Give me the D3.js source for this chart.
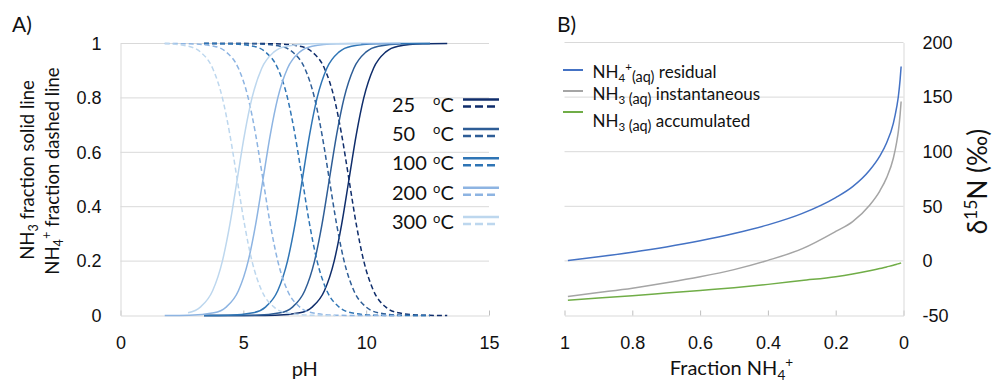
<!DOCTYPE html>
<html>
<head>
<meta charset="utf-8">
<script src="https://cdn.jsdelivr.net/npm/d3@7"></script>
<style>
  body { margin: 0; background: #fff; }
  svg { font-family: Lato, "Open Sans", sans-serif; }
</style>
</head>
<body>
<script>
// ---------- panel A data (pH vs. fraction) ----------
var phTicks = [0, 5, 10, 15];
var fracTicks = [0, 0.2, 0.4, 0.6, 0.8, 1];
var temps = ["25", "50", "100", "200", "300"];

var ph25  = [3.4, 5.3, 6.3, 7.3, 7.8, 8.3, 8.7, 9.0, 9.3, 9.6, 9.9, 10.3, 10.8, 11.3, 12.3, 13.3];
var nh3_25 = [0, 0.0001, 0.001, 0.0099, 0.031, 0.091, 0.201, 0.334, 0.5, 0.666, 0.799, 0.909, 0.969, 0.990, 0.999, 1];
var nh4_25 = [1, 0.9999, 0.999, 0.990, 0.969, 0.909, 0.799, 0.666, 0.5, 0.334, 0.201, 0.091, 0.031, 0.010, 0.001, 0];

var ph50  = [3.4, 4.5, 5.5, 6.5, 7.0, 7.5, 7.9, 8.2, 8.5, 8.8, 9.1, 9.5, 10.0, 10.5, 11.5, 12.6];
var nh3_50 = [0, 0.0001, 0.001, 0.0099, 0.031, 0.091, 0.201, 0.334, 0.5, 0.666, 0.799, 0.909, 0.969, 0.990, 0.999, 1];
var nh4_50 = [1, 0.9999, 0.999, 0.990, 0.969, 0.909, 0.799, 0.666, 0.5, 0.334, 0.201, 0.091, 0.031, 0.010, 0.001, 0];

var ph100  = [3.4, 4.4, 5.4, 5.9, 6.4, 6.8, 7.1, 7.4, 7.7, 8.0, 8.4, 8.9, 9.4, 10.4, 11.4, 12.6];
var nh3_100 = [0.0001, 0.001, 0.0099, 0.031, 0.091, 0.201, 0.334, 0.5, 0.666, 0.799, 0.909, 0.969, 0.990, 0.999, 1, 1];
var nh4_100 = [0.9999, 0.999, 0.990, 0.969, 0.909, 0.799, 0.666, 0.5, 0.334, 0.201, 0.091, 0.031, 0.010, 0.001, 0, 0];

var ph200  = [1.8, 2.8, 3.8, 4.3, 4.8, 5.2, 5.5, 5.8, 6.1, 6.4, 6.8, 7.3, 7.8, 8.8, 9.8, 11.4];
var nh3_200 = [0.0001, 0.001, 0.0099, 0.031, 0.091, 0.201, 0.334, 0.5, 0.666, 0.799, 0.909, 0.969, 0.990, 0.999, 1, 1];
var nh4_200 = [0.9999, 0.999, 0.990, 0.969, 0.909, 0.799, 0.666, 0.5, 0.334, 0.201, 0.091, 0.031, 0.010, 0.001, 0, 0];

var ph300s = [2.75, 3.25, 3.75, 4.15, 4.45, 4.75, 5.05, 5.35, 5.75, 6.25, 6.75, 7.75, 9.8];
var nh3_300 = [0.0099, 0.031, 0.091, 0.201, 0.334, 0.5, 0.666, 0.799, 0.909, 0.969, 0.990, 0.999, 1];
var ph300d = [1.8, 2.75, 3.25, 3.75, 4.15, 4.45, 4.75, 5.05, 5.35, 5.75, 6.25, 6.75, 7.75, 8.75];
var nh4_300 = [0.9999, 0.990, 0.969, 0.909, 0.799, 0.666, 0.5, 0.334, 0.201, 0.091, 0.031, 0.010, 0.001, 0.0001];

// ---------- panel B data (fraction NH4+ remaining vs. d15N) ----------
var fracNH4 = [0.99, 0.9, 0.8, 0.7, 0.6, 0.5, 0.4, 0.3, 0.2, 0.15, 0.1, 0.07, 0.05, 0.03, 0.02, 0.015, 0.01, 0.007];
var residual = [0.4, 3.8, 8, 12.8, 18.4, 25, 33, 43.3, 58, 68, 83, 96, 108, 126, 141, 151, 166, 178];
var instantaneous = [-32.5, -29, -25, -20, -14.5, -8, 0.5, 11, 27, 36, 51, 64, 76, 94, 109, 119, 134, 146];
var accumulated = [-36, -34, -32, -29.5, -27, -24.5, -21.5, -18, -14.5, -12, -9, -7, -5.5, -4, -3, -2.6, -2.2, -1.8];
var fracTicksB = [1, 0.8, 0.6, 0.4, 0.2, 0];
var deltaTicks = [-50, 0, 50, 100, 150, 200];

var tempColors = ["#0f2d6b", "#2e5d96", "#2f75b5", "#8db4e2", "#bdd7ee"];
var textColor = "#111";
var gridColor = "#d9d9d9";

var svg = d3.select("body").append("svg")
    .attr("width", 992)
    .attr("height", 382);

// text with sub / superscript pieces: [text, kind, scale]
function rich(sel, parts, size) {
    var cur = 0;
    parts.forEach(function(p) {
        var k = p[1] || "";
        var sc = p[2] || 0.68;
        var target = k == "sub" ? size * 0.24 : (k == "sup" ? -size * 0.38 : 0);
        sel.append("tspan")
            .attr("dy", target - cur)
            .attr("font-size", k ? size * sc : size)
            .text(p[0]);
        cur = target;
    });
    return sel;
}

function styleAxis(g, size) {
    g.select(".domain").attr("stroke", gridColor);
    g.selectAll(".tick line").attr("stroke", "#bfbfbf");
    g.selectAll("text").attr("fill", textColor).attr("font-size", size);
}

// ================= PANEL A =================
var xA = d3.scaleLinear().domain([0, 15]).range([120.5, 489]);
var yA = d3.scaleLinear().domain([0, 1]).range([315.5, 43.5]);

svg.append("g").selectAll("line")
    .data(fracTicks.filter(function(d) { return d > 0; }))
    .enter().append("line")
    .attr("x1", xA(0)).attr("x2", xA(15))
    .attr("y1", function(d) { return yA(d); })
    .attr("y2", function(d) { return yA(d); })
    .attr("stroke", gridColor);

var axA = svg.append("g")
    .attr("transform", "translate(0," + yA(0) + ")")
    .call(d3.axisBottom(xA).tickValues(phTicks).tickSizeInner(-5).tickSizeOuter(0).tickPadding(20.5));
styleAxis(axA, 18);

var ayA = svg.append("g")
    .attr("transform", "translate(" + xA(0) + ",0)")
    .call(d3.axisLeft(yA).tickValues(fracTicks).tickSize(0).tickPadding(19).tickFormat(function(d) { return d; }));
styleAxis(ayA, 18);

var curvesA = [
    {t: 0, ph: ph25, v: nh3_25, dash: false}, {t: 0, ph: ph25, v: nh4_25, dash: true},
    {t: 1, ph: ph50, v: nh3_50, dash: false}, {t: 1, ph: ph50, v: nh4_50, dash: true},
    {t: 2, ph: ph100, v: nh3_100, dash: false}, {t: 2, ph: ph100, v: nh4_100, dash: true},
    {t: 3, ph: ph200, v: nh3_200, dash: false}, {t: 3, ph: ph200, v: nh4_200, dash: true},
    {t: 4, ph: ph300s, v: nh3_300, dash: false}, {t: 4, ph: ph300d, v: nh4_300, dash: true}
];

var lineA = d3.line()
    .x(function(d) { return xA(d[0]); })
    .y(function(d) { return yA(d[1]); })
    .curve(d3.curveMonotoneX);

svg.append("g").selectAll("path")
    .data(curvesA)
    .enter().append("path")
    .attr("d", function(c) { return lineA(c.ph.map(function(p, i) { return [p, c.v[i]]; })); })
    .attr("fill", "none")
    .attr("stroke", function(c) { return tempColors[c.t]; })
    .attr("stroke-width", 1.5)
    .attr("stroke-dasharray", function(c) { return c.dash ? "5,3" : null; });

// legend A
var legA = svg.append("g").selectAll("g")
    .data(temps)
    .enter().append("g")
    .attr("transform", function(d, i) { return "translate(0," + (99.5 + i * 29.4) + ")"; });

legA.append("line")
    .attr("x1", 463).attr("x2", 499).attr("y1", 0).attr("y2", 0)
    .attr("stroke", function(d, i) { return tempColors[i]; })
    .attr("stroke-width", 2.5);
legA.append("line")
    .attr("x1", 463).attr("x2", 499).attr("y1", 7).attr("y2", 7)
    .attr("stroke", function(d, i) { return tempColors[i]; })
    .attr("stroke-width", 2.5)
    .attr("stroke-dasharray", "8,4");

var legTxt = legA.append("text")
    .attr("y", 12)
    .attr("fill", textColor)
    .attr("font-size", 20);
legTxt.append("tspan").attr("x", 392).text(function(d) { return d; });
legTxt.append("tspan").attr("x", 433).attr("dy", -6.5).attr("font-size", 13).text("o");
legTxt.append("tspan").attr("dy", 6.5).text("C");

// labels A
svg.append("text").attr("x", 12).attr("y", 32).attr("font-size", 21).attr("fill", textColor).text("A)");
svg.append("text").attr("x", xA(7.5)).attr("y", 376).attr("text-anchor", "middle")
    .attr("font-size", 20).attr("fill", textColor).text("pH");

rich(svg.append("text")
    .attr("transform", "translate(34,170) rotate(-90)")
    .attr("text-anchor", "middle").attr("fill", textColor),
    [["NH"], ["3", "sub"], [" fraction solid line"]], 18.5);
rich(svg.append("text")
    .attr("transform", "translate(58.5,171) rotate(-90)")
    .attr("text-anchor", "middle").attr("fill", textColor),
    [["NH"], ["4", "sub"], ["+", "sup"], [" fraction dashed line"]], 18.5);

// ================= PANEL B =================
var xB = d3.scaleLinear().domain([1, 0]).range([564.5, 903.5]);
var yB = d3.scaleLinear().domain([-50, 200]).range([315.5, 42.5]);

svg.append("g").selectAll("line")
    .data(deltaTicks.filter(function(d) { return d > -50; }))
    .enter().append("line")
    .attr("x1", xB(1)).attr("x2", xB(0))
    .attr("y1", function(d) { return yB(d); })
    .attr("y2", function(d) { return yB(d); })
    .attr("stroke", gridColor);

var axB = svg.append("g")
    .attr("transform", "translate(0," + yB(-50) + ")")
    .call(d3.axisBottom(xB).tickValues(fracTicksB).tickSizeInner(-5).tickSizeOuter(0).tickPadding(20.5)
        .tickFormat(function(d) { return d; }));
styleAxis(axB, 18);

var ayB = svg.append("g")
    .attr("transform", "translate(" + xB(0) + ",0)")
    .call(d3.axisRight(yB).tickValues(deltaTicks).tickSize(0).tickPadding(19).tickFormat(function(d) { return d; }));
styleAxis(ayB, 18);

var seriesB = [
    {name: "residual", v: residual, color: "#4472c4"},
    {name: "instantaneous", v: instantaneous, color: "#a5a5a5"},
    {name: "accumulated", v: accumulated, color: "#70ad47"}
];

var lineB = d3.line()
    .x(function(d) { return xB(d[0]); })
    .y(function(d) { return yB(d[1]); })
    .curve(d3.curveMonotoneX);

svg.append("g").selectAll("path")
    .data(seriesB)
    .enter().append("path")
    .attr("d", function(s) { return lineB(fracNH4.map(function(f, i) { return [f, s.v[i]]; })); })
    .attr("fill", "none")
    .attr("stroke", function(s) { return s.color; })
    .attr("stroke-width", 1.5);

// legend B
var legRowsY = [70, 91, 112];
var legTextY = [77.5, 100, 127];
var legLabels = [
    [["NH"], ["4", "sub"], ["+", "sup"], ["(aq)", "sub", 0.85], [" residual"]],
    [["NH"], ["3", "sub"], [" (aq)", "sub", 0.85], ["  instantaneous"]],
    [["NH"], ["3", "sub"], [" (aq)", "sub", 0.85], [" accumulated"]]
];
seriesB.forEach(function(s, i) {
    svg.append("line")
        .attr("x1", 563).attr("x2", 583)
        .attr("y1", legRowsY[i]).attr("y2", legRowsY[i])
        .attr("stroke", s.color).attr("stroke-width", 2);
    rich(svg.append("text").attr("x", 592.5).attr("y", legTextY[i]).attr("fill", textColor),
        legLabels[i], 17);
});

// labels B
svg.append("text").attr("x", 557).attr("y", 32).attr("font-size", 21).attr("fill", textColor).text("B)");
rich(svg.append("text").attr("x", 731.5).attr("y", 375).attr("text-anchor", "middle").attr("fill", textColor),
    [["Fraction NH"], ["4", "sub"], ["+", "sup"]], 20);
rich(svg.append("text")
    .attr("transform", "translate(987,181.5) rotate(-90)")
    .attr("text-anchor", "middle").attr("fill", textColor),
    [["δ"], ["15", "sup"], ["N (‰)"]], 26);
</script>
</body>
</html>
